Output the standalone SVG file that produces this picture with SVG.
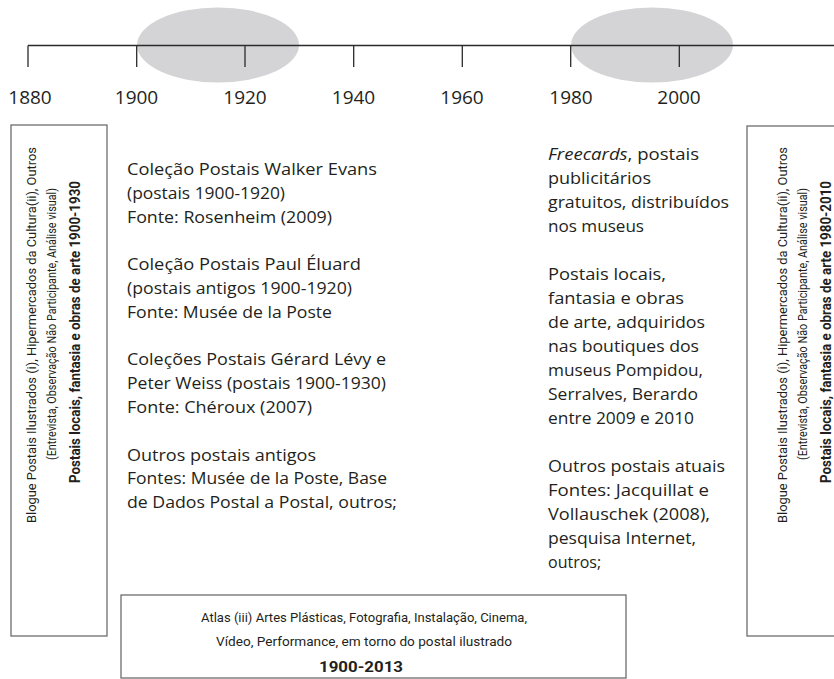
<svg xmlns="http://www.w3.org/2000/svg" width="834" height="679" viewBox="0 0 834 679">
<style>
.t{font-family:"Open Sans","Liberation Sans",sans-serif;fill:#231f20}
.l{font-family:Roboto,"Liberation Sans",sans-serif}
.yr{font-size:19px;text-anchor:middle}
.c{font-size:16px}
.r{font-size:12.5px}
.rb{font-size:15px;font-weight:bold}
.a{font-size:13.5px}
.ab{font-size:15px;font-weight:bold}
.box{fill:#fff;stroke:#6d6d6d;stroke-width:1.3}
.ax{stroke:#2b2b2b;stroke-width:1.3;fill:none}
</style>
<rect width="834" height="679" fill="#fff"/>
<g id="timeline">
<ellipse cx="218" cy="45" rx="81" ry="37.5" fill="#d4d4d6"/>
<ellipse cx="652" cy="45" rx="81" ry="37.5" fill="#d4d4d6"/>
<path class="ax" d="M28,45.5H834M28,45.5V67M136.7,45.5V67M245,45.5V67M353.7,45.5V67M462.3,45.5V67M570.7,45.5V67M679.3,45.5V67"/>
<g class="t yr">
<text x="30" y="104">1880</text>
<text x="136.5" y="104">1900</text>
<text x="245" y="104">1920</text>
<text x="353.5" y="104">1940</text>
<text x="462" y="104">1960</text>
<text x="571" y="104">1980</text>
<text x="679" y="104">2000</text>
</g>
</g>
<g id="box-1900-1930">
<rect class="box" x="11" y="125" width="96" height="511"/>
<g class="t l">
<text class="r" transform="translate(36,523) rotate(-90)" textLength="376" lengthAdjust="spacingAndGlyphs">Blogue Postais Ilustrados (i), Hipermercados da Cultura(ii), Outros</text>
<text class="r" transform="translate(55.5,460) rotate(-90)" textLength="272" lengthAdjust="spacingAndGlyphs">(Entrevista, Observação Não Participante, Análise visual)</text>
<text class="rb" transform="translate(80,483) rotate(-90)" textLength="302" lengthAdjust="spacingAndGlyphs">Postais locais, fantasia e obras de arte 1900-1930</text>
</g>
</g>
<g id="box-1980-2010">
<rect class="box" x="747" y="126" width="100" height="510"/>
<g class="t l">
<text class="r" transform="translate(787,523) rotate(-90)" textLength="376" lengthAdjust="spacingAndGlyphs">Blogue Postais Ilustrados (i), Hipermercados da Cultura(ii), Outros</text>
<text class="r" transform="translate(806.5,460) rotate(-90)" textLength="272" lengthAdjust="spacingAndGlyphs">(Entrevista, Observação Não Participante, Análise visual)</text>
<text class="rb" transform="translate(831,483) rotate(-90)" textLength="302" lengthAdjust="spacingAndGlyphs">Postais locais, fantasia e obras de arte 1980-2010</text>
</g>
</g>
<g id="sources-1900" class="t c">
<text x="127" y="175" textLength="250" lengthAdjust="spacingAndGlyphs">Coleção Postais Walker Evans</text>
<text x="127" y="198.8" textLength="158" lengthAdjust="spacingAndGlyphs">(postais 1900-1920)</text>
<text x="127" y="222.6" textLength="205" lengthAdjust="spacingAndGlyphs">Fonte: Rosenheim (2009)</text>
<text x="127" y="270.2" textLength="234" lengthAdjust="spacingAndGlyphs">Coleção Postais Paul Éluard</text>
<text x="127" y="294" textLength="225" lengthAdjust="spacingAndGlyphs">(postais antigos 1900-1920)</text>
<text x="127" y="317.8" textLength="205" lengthAdjust="spacingAndGlyphs">Fonte: Musée de la Poste</text>
<text x="127" y="365.4" textLength="259" lengthAdjust="spacingAndGlyphs">Coleções Postais Gérard Lévy e</text>
<text x="127" y="389.2" textLength="259" lengthAdjust="spacingAndGlyphs">Peter Weiss (postais 1900-1930)</text>
<text x="127" y="413" textLength="185" lengthAdjust="spacingAndGlyphs">Fonte: Chéroux (2007)</text>
<text x="127" y="460.6" textLength="189" lengthAdjust="spacingAndGlyphs">Outros postais antigos</text>
<text x="127" y="484.4" textLength="260" lengthAdjust="spacingAndGlyphs">Fontes: Musée de la Poste, Base</text>
<text x="127" y="508.2" textLength="270" lengthAdjust="spacingAndGlyphs">de Dados Postal a Postal, outros;</text>
</g>
<g id="sources-1980" class="t c">
<text x="548" y="160" textLength="151" lengthAdjust="spacingAndGlyphs"><tspan font-style="italic">Freecards</tspan>, postais</text>
<text x="548" y="184" textLength="103" lengthAdjust="spacingAndGlyphs">publicitários</text>
<text x="548" y="208" textLength="181" lengthAdjust="spacingAndGlyphs">gratuitos, distribuídos</text>
<text x="548" y="232" textLength="96" lengthAdjust="spacingAndGlyphs">nos museus</text>
<text x="548" y="280" textLength="118" lengthAdjust="spacingAndGlyphs">Postais locais,</text>
<text x="548" y="304" textLength="136" lengthAdjust="spacingAndGlyphs">fantasia e obras</text>
<text x="548" y="328" textLength="157" lengthAdjust="spacingAndGlyphs">de arte, adquiridos</text>
<text x="548" y="352" textLength="151" lengthAdjust="spacingAndGlyphs">nas boutiques dos</text>
<text x="548" y="376" textLength="155" lengthAdjust="spacingAndGlyphs">museus Pompidou,</text>
<text x="548" y="400" textLength="150" lengthAdjust="spacingAndGlyphs">Serralves, Berardo</text>
<text x="548" y="424" textLength="146" lengthAdjust="spacingAndGlyphs">entre 2009 e 2010</text>
<text x="548" y="472" textLength="177" lengthAdjust="spacingAndGlyphs">Outros postais atuais</text>
<text x="548" y="496" textLength="161" lengthAdjust="spacingAndGlyphs">Fontes: Jacquillat e</text>
<text x="548" y="520" textLength="162" lengthAdjust="spacingAndGlyphs">Vollauschek (2008),</text>
<text x="548" y="544" textLength="148" lengthAdjust="spacingAndGlyphs">pesquisa Internet,</text>
<text x="548" y="568">outros;</text>
</g>
<g id="atlas-box">
<rect class="box" x="121" y="595" width="505" height="83"/>
<g class="t l">
<text class="a" x="201" y="621.7" textLength="326" lengthAdjust="spacingAndGlyphs">Atlas (iii) Artes Plásticas, Fotografia, Instalação, Cinema,</text>
<text class="a" x="216" y="646" textLength="296" lengthAdjust="spacingAndGlyphs">Vídeo, Performance, em torno do postal ilustrado</text>
<text class="ab" x="319" y="671.7" textLength="84" lengthAdjust="spacingAndGlyphs">1900-2013</text>
</g>
</g>
</svg>
